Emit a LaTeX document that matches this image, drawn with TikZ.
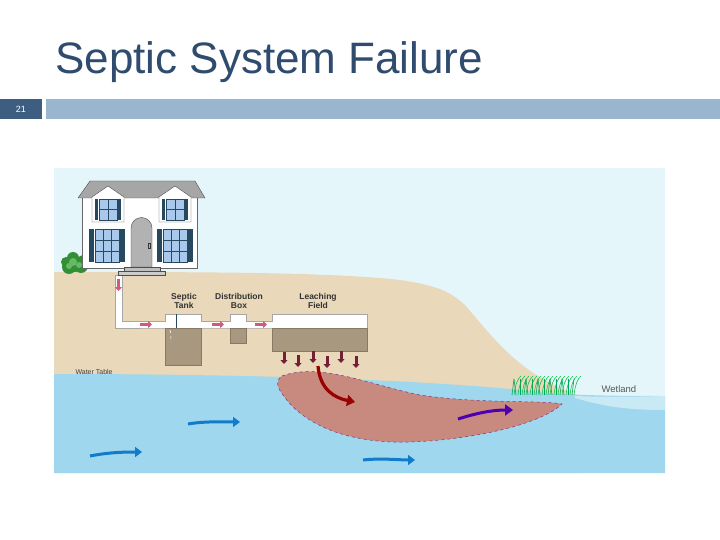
\documentclass[tikz,border=0pt]{standalone}
\usepackage{fontspec}
\setmainfont{Liberation Sans}
\usetikzlibrary{arrows.meta,decorations.pathmorphing}
\definecolor{titlec}{HTML}{2F4B6E}
\definecolor{barc}{HTML}{9AB5CE}
\definecolor{numc}{HTML}{3D5E80}
\definecolor{sky}{HTML}{E5F6FA}
\definecolor{soil}{HTML}{E9D8BA}
\definecolor{water}{HTML}{9ED7EE}
\definecolor{plume}{HTML}{C8897E}
\definecolor{pipe}{HTML}{FFFFFF}
\definecolor{gravel}{HTML}{A89880}
\definecolor{flow}{HTML}{C0345A}
\definecolor{shut}{HTML}{27495F}
\definecolor{glass}{HTML}{A9C9EC}
\tikzset{
 lbl/.style={font=\fontsize{8.5}{9}\selectfont\bfseries,align=center,text=black!80},
 pipeline/.style={draw=gray!70,fill=pipe,line width=0.6pt},
 gravelbox/.style={fill=gravel,draw=gravel!80!black,line width=0.3pt},
 redarr/.style={-{Triangle[length=4pt,width=7pt]},line width=3pt,draw=flow!80},
 downarr/.style={-{Triangle[length=4pt,width=7pt]},line width=3pt,draw=flow!60!black},
 bluearr/.style={-{Triangle[length=7pt,width=10pt]},line width=3pt,draw=cyan!60!blue},
 win/.style={fill=glass,draw=shut,line width=0.8pt},
}
\begin{document}
\begin{tikzpicture}[x=1pt,y=-1pt]
\useasboundingbox (0,0) rectangle (720,540);
\fill[white] (0,0) rectangle (720,540);
% title
\node[anchor=base west,inner sep=0,text=titlec,font=\fontsize{44}{45}\selectfont] (title) at (55,74) {Septic System Failure};
\fill[numc] (0,99) rectangle (42,119);
\node[text=white,font=\fontsize{9}{10}\selectfont] (num) at (21,109) {21};
\fill[barc] (46,99) rectangle (720,119);
% picture
\begin{scope}
\clip (54,168) rectangle (665,473);
\fill[sky] (54,168) rectangle (665,473);
% soil
\fill[soil] (54,272) .. controls (200,272) and (330,272) .. (400,280)
  .. controls (440,286) and (450,292) .. (465,305)
  .. controls (495,340) and (520,375) .. (580,396) -- (580,473) -- (54,473) -- cycle;
% water
\fill[water] (54,374) .. controls (250,374) and (420,380) .. (520,390)
  .. controls (560,395) and (600,396) .. (665,396) -- (665,473) -- (54,473) -- cycle;
\fill[water!40!sky] (575,396) .. controls (600,397) and (620,397) .. (665,396) -- (665,410) .. controls (620,410) and (600,405) .. (575,398) -- cycle;
% plume
\fill[plume,draw=violet!60!gray,dashed,line width=0.5pt] (282,376) .. controls (320,362) and (370,385) .. (420,395)
  .. controls (480,404) and (540,400) .. (562,404)
  .. controls (540,425) and (470,440) .. (410,442)
  .. controls (340,444) and (300,420) .. (283,395)
  .. controls (276,386) and (276,380) .. (282,376) -- cycle;
% wetland grass
\foreach \x in {512,516,...,572}{
  \draw[teal!70!green,line width=0.6pt] (\x,395) -- ++({mod(\x,3)*2-2},-16);
  \draw[teal!50!green,line width=0.5pt] (\x+2,395) .. controls (\x+3,385) and (\x+6,378) .. (\x+9,376);
}
\end{scope}
% pipes
\draw[pipeline] (115,275) -- (115,328) -- (165,328) -- (165,328) -- (201,328) -- (367,328) -- (367,314) -- (272,314) -- (272,321) -- (246,321) -- (246,314) -- (230,314) -- (230,321) -- (201,321) -- (201,314) -- (165,314) -- (165,321) -- (122,321) -- (122,275) -- cycle;
\fill[pipe] (116,322) rectangle (366,327.5);
\draw[shut,line width=0.8pt] (176,314) -- (176,328);
\fill[gravelbox] (165,328) rectangle (201,365);
\fill[gravelbox] (230,328) rectangle (246,343);
\fill[gravelbox] (272,328) rectangle (367,351);
\draw[white,dashed,line width=0.6pt] (170,330) .. controls (172,336) and (170,338) .. (171,342);
% flow arrows
\draw[redarr] (118.5,279) -- (118.5,291);
\draw[redarr] (140,324.5) -- (152,324.5);
\draw[redarr] (212,324.5) -- (224,324.5);
\draw[redarr] (255,324.5) -- (267,324.5);
\foreach \x/\y in {284/352,298/355,313/351,327/356,341/351,356/356}
  \draw[downarr] (\x,\y) -- (\x,\y+12);
% labels
\node[lbl] (st) at (184,301) {Septic\\Tank};
\node[lbl] (db) at (239,301) {Distribution\\Box};
\node[lbl] (lf) at (318,301) {Leaching\\Field};
\node[anchor=west,font=\fontsize{7}{8}\selectfont,text=black!75] (wt) at (72,372) {Water Table};
\node[anchor=west,font=\fontsize{9.5}{10}\selectfont,text=black!65] (wl) at (598,389) {Wetland};
% plume arrows
\draw[-{Triangle[length=8pt,width=11pt]},line width=3.2pt,draw=red!60!black] (318,366) .. controls (320,390) and (335,398) .. (355,402);
\draw[-{Triangle[length=8pt,width=11pt]},line width=3pt,draw=violet!60!blue] (458,419) .. controls (480,412) and (495,410) .. (513,410);
\draw[bluearr] (188,424) .. controls (205,421) and (225,422) .. (240,422);
\draw[bluearr] (90,456) .. controls (110,452) and (128,452) .. (142,452);
\draw[bluearr] (363,460) .. controls (380,458) and (400,460) .. (415,460);
% bush
\foreach \dx/\dy/\r in {0/0/8,-6/3/7,6/2/7,-2/-6/6,8/-4/5,-9/-2/5}
  \fill[green!45!black!80] (75+\dx,264+\dy) circle (\r);
\foreach \dx/\dy/\r in {-2/-2/4,4/1/3,-6/2/3}
  \fill[green!55!black!60] (75+\dx,264+\dy) circle (\r);
% house
\fill[white,draw=gray!80!black,line width=0.6pt] (82,197) rectangle (197,268);
\fill[gray!70,draw=gray!60!black] (78,198) -- (205,198) -- (195,181) -- (90,181) -- cycle;
\foreach \cx in {108,175}{
  \fill[white,draw=gray!60!black] (\cx-16,222) -- (\cx-16,197) -- (\cx,186) -- (\cx+16,197) -- (\cx+16,222) -- cycle;
  \draw[win] (\cx-9,199) rectangle (\cx+9,220);
  \draw[shut,line width=0.5pt] (\cx,199) -- (\cx,220) (\cx-9,209.5) -- (\cx+9,209.5);
  \fill[shut] (\cx-13,199) rectangle (\cx-10,220);
  \fill[shut] (\cx+10,199) rectangle (\cx+13,220);
}
\foreach \cx in {107,175}{
  \draw[win] (\cx-12,229) rectangle (\cx+12,262);
  \draw[shut,line width=0.5pt] (\cx-4,229) -- (\cx-4,262) (\cx+4,229) -- (\cx+4,262) (\cx-12,240) -- (\cx+12,240) (\cx-12,251) -- (\cx+12,251);
  \fill[shut] (\cx-18,229) rectangle (\cx-13,262);
  \fill[shut] (\cx+13,229) rectangle (\cx+18,262);
}
\fill[gray!60,draw=gray!60!black] (131,267) -- (131,228) arc (180:360:10.5) -- (152,267) -- cycle;
\draw[gray!40!black] (148,243) rectangle (150,248);
\fill[gray!50,draw=gray!60!black] (124,267) rectangle (160,271);
\fill[gray!40,draw=gray!60!black] (118,271) rectangle (165,275);
\end{tikzpicture}
\end{document}
